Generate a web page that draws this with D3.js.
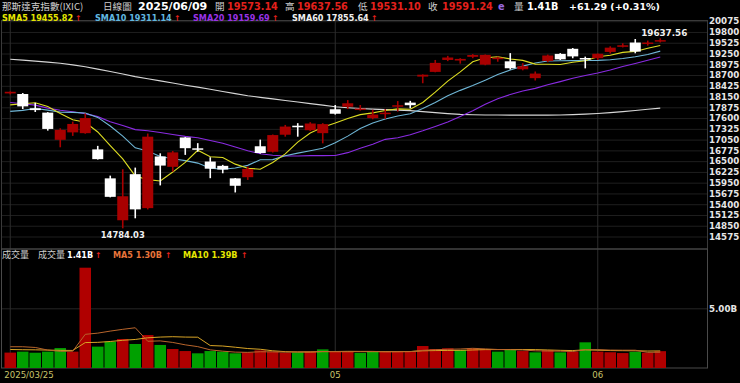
<!DOCTYPE html>
<html>
<head>
<meta charset="utf-8">
<script src="https://cdn.jsdelivr.net/npm/d3@7.9.0/dist/d3.min.js"></script>
<style>
  body { margin: 0; background: #000; }
  svg { display: block; }
  .num { font-family: "DejaVu Sans", Verdana, sans-serif; font-weight: bold; }
  .cjk { font-family: "Noto Sans CJK TC", sans-serif; }
</style>
</head>
<body>
<svg id="chart" width="740" height="383"></svg>
<script>
// Daily candles, 2025/03/25 - 2025/06/09
const dates = [
  "2025/03/25", "2025/03/26", "2025/03/27", "2025/03/28", "2025/03/31",
  "2025/04/01", "2025/04/02", "2025/04/03", "2025/04/04", "2025/04/07",
  "2025/04/08", "2025/04/09", "2025/04/10", "2025/04/11", "2025/04/14",
  "2025/04/15", "2025/04/16", "2025/04/17", "2025/04/21", "2025/04/22",
  "2025/04/23", "2025/04/24", "2025/04/25", "2025/04/28", "2025/04/29",
  "2025/04/30", "2025/05/01", "2025/05/02", "2025/05/05", "2025/05/06",
  "2025/05/07", "2025/05/08", "2025/05/09", "2025/05/12", "2025/05/13",
  "2025/05/14", "2025/05/15", "2025/05/16", "2025/05/19", "2025/05/20",
  "2025/05/21", "2025/05/22", "2025/05/23", "2025/05/27", "2025/05/28",
  "2025/05/29", "2025/05/30", "2025/06/02", "2025/06/03", "2025/06/04",
  "2025/06/05", "2025/06/06", "2025/06/09"
];
const opens = [
  18230, 18215, 17850, 17740, 17045, 17235, 17215, 16800, 16060, 14990,
  16167, 15300, 16620, 16355, 17105, 16828, 16490, 16380, 16060, 16090,
  16880, 16740, 17175, 17405, 17290, 17215, 17825, 17890, 17815, 17600,
  17700, 17905, 17995, 18660, 18780, 19085, 19070, 19165, 18965, 19135,
  19050, 18846, 18620, 19060, 19240, 19370, 19135, 19130, 19290, 19420,
  19530, 19500, 19573.14
];
const highs = [
  18282, 18240, 17990, 17752, 17340, 17510, 17720, 16890, 16130, 16293,
  16335, 17205, 16700, 16760, 17115, 16960, 16600, 16405, 16070, 16360,
  17050, 17180, 17425, 17470, 17495, 17470, 17935, 18060, 17935, 17815,
  17830, 18035, 18040, 18716, 19085, 19190, 19130, 19235, 19225, 19170,
  19260, 19003, 18790, 19222, 19260, 19390, 19170, 19250, 19434, 19512,
  19620, 19580, 19637.56
];
const lows = [
  18205, 17830, 17755, 17280, 16854, 17145, 17200, 16540, 15575, 14784.03,
  15040, 15267, 15880, 16232, 16660, 16740, 16065, 16190, 15700, 16020,
  16690, 16720, 17125, 17125, 17270, 16955, 17690, 17830, 17790, 17570,
  17580, 17765, 17850, 18490, 18770, 19055, 18990, 19130, 18950, 19040,
  18840, 18820, 18560, 19030, 19085, 19128, 18870, 19085, 19250, 19405,
  19255, 19450, 19531.10
];
const closes = [
  18272, 17899, 17804, 17323, 17299, 17450, 17601, 16551, 15588, 15603,
  15268, 17125, 16387, 16724, 16831, 16823, 16307, 16286, 15871, 16300,
  16708, 17166, 17383, 17366, 17461, 17446, 17711, 17978, 17844, 17690,
  17738, 17928, 17929, 18708, 19010, 19147, 19112, 19211, 19215, 19143,
  18873, 18926, 18737, 19199, 19101, 19176, 19114, 19243, 19399, 19460,
  19298, 19530, 19591.24
];
const prevClose = 18188.59;

// moving averages of the close
const sma5 = [
  17938, 17967, 17990, 17897, 17719, 17555, 17495, 17245, 16898, 16559,
  16122, 16027, 15994, 16221, 16467, 16778, 16614, 16594, 16424, 16317,
  16294, 16466, 16686, 16985, 17217, 17364, 17473, 17592, 17688, 17734,
  17792, 17836, 17826, 17999, 18263, 18544, 18781, 19038, 19139, 19166,
  19111, 19074, 18979, 18976, 18967, 19028, 19065, 19167, 19207, 19278,
  19303, 19386, 19455.82
];
const sma10 = [
  17771, 17796, 17846, 17803, 17752, 17746, 17731, 17617, 17398, 17139,
  16839, 16761, 16620, 16560, 16513, 16450, 16321, 16294, 16323, 16392,
  16536, 16540, 16640, 16704, 16767, 16829, 16970, 17139, 17336, 17475,
  17578, 17655, 17709, 17843, 17998, 18168, 18308, 18432, 18569, 18714,
  18828, 18927, 19008, 19057, 19066, 19069, 19070, 19073, 19091, 19123,
  19165, 19226, 19311.14
];
const sma20 = [
  18000, 17968, 17931, 17854, 17802, 17760, 17713, 17637, 17506, 17413,
  17305, 17278, 17233, 17181, 17132, 17098, 17026, 16956, 16860, 16766,
  16687, 16651, 16630, 16632, 16640, 16640, 16645, 16717, 16829, 16934,
  17057, 17097, 17175, 17274, 17383, 17499, 17639, 17785, 17953, 18095,
  18203, 18291, 18359, 18450, 18532, 18619, 18689, 18752, 18830, 18918,
  18996, 19077, 19159.69
];
const sma60 = [
  19102, 19080, 19055, 19030, 19000, 18960, 18910, 18850, 18790, 18725,
  18660, 18605, 18550, 18495, 18440, 18390, 18335, 18280, 18225, 18172,
  18130, 18090, 18050, 18010, 17970, 17930, 17891, 17865, 17845, 17828,
  17815, 17803, 17790, 17765, 17740, 17715, 17695, 17685, 17680, 17678,
  17676, 17675, 17675, 17676, 17680, 17688, 17700, 17718, 17740, 17765,
  17795, 17825, 17855.64
];

// volume in billions
const volumes = [
  1.29, 1.37, 1.28, 1.37, 1.67, 1.37, 8.40, 1.79, 2.20, 2.43,
  2.01, 2.76, 1.93, 1.59, 1.42, 1.23, 1.42, 1.37, 1.23, 1.31,
  1.48, 1.37, 1.28, 1.31, 1.37, 1.56, 1.37, 1.37, 1.26, 1.37,
  1.42, 1.42, 1.37, 1.84, 1.59, 1.65, 1.51, 1.65, 1.59, 1.37,
  1.51, 1.42, 1.31, 1.51, 1.31, 1.37, 2.15, 1.37, 1.32, 1.25,
  1.35, 1.28, 1.41
];
const volMa5 = [
  1.78, 1.78, 1.72, 1.50, 1.40, 1.41, 2.82, 2.92, 3.09, 3.24,
  3.37, 2.24, 2.27, 2.14, 1.94, 1.79, 1.52, 1.41, 1.33, 1.31,
  1.36, 1.35, 1.33, 1.35, 1.36, 1.38, 1.38, 1.40, 1.39, 1.39,
  1.36, 1.37, 1.37, 1.48, 1.53, 1.57, 1.59, 1.65, 1.60, 1.55,
  1.53, 1.51, 1.44, 1.42, 1.41, 1.38, 1.53, 1.54, 1.50, 1.49,
  1.49, 1.31, 1.32
];
const volMa10 = [
  1.55, 1.53, 1.52, 1.50, 1.48, 1.47, 2.13, 2.15, 2.22, 2.32,
  2.39, 2.53, 2.59, 2.62, 2.59, 2.58, 1.88, 1.84, 1.74, 1.63,
  1.57, 1.44, 1.37, 1.34, 1.34, 1.37, 1.37, 1.37, 1.37, 1.37,
  1.37, 1.37, 1.38, 1.44, 1.46, 1.47, 1.48, 1.51, 1.54, 1.54,
  1.55, 1.55, 1.54, 1.51, 1.48, 1.46, 1.52, 1.49, 1.46, 1.45,
  1.44, 1.42, 1.43
];

// axis ticks
const priceTicks = [
  20075, 19800, 19525, 19250, 18975, 18700, 18425, 18150, 17875, 17600, 17325,
  17050, 16775, 16500, 16225, 15950, 15675, 15400, 15125, 14850, 14575
];
const volTicks = [5];
const dateTicks = ["2025/03/25", "2025/05/01", "2025/06/02"];
const dateTickLabels = ["2025/03/25", "05", "06"];

const svg = d3.select("#chart");
const plotLeft = 1.5;
const plotRight = 707.5;
const volTop = 249;
const volBottom = 368;

const x = d3.scaleBand().domain(dates).range([4, 666.5]);
const mid = (d) => x(d) + x.bandwidth() / 2;
const y = d3.scaleLinear().domain([14575, 20075]).range([236.5, 21.2]);
const yVol = d3.scaleLinear().domain([0, 5]).range([volBottom, 308.3]);

const bars = dates.map((d, i) => ({
  date: d,
  open: opens[i],
  high: highs[i],
  low: lows[i],
  close: closes[i],
  volume: volumes[i],
  prev: i === 0 ? prevClose : closes[i - 1]
}));

// Grid lines
const gridPrice = svg.append("g")
  .attr("transform", `translate(${plotRight},0)`)
  .call(d3.axisLeft(y).tickValues(priceTicks).tickSize(plotRight - plotLeft).tickFormat(""));
gridPrice.select(".domain").remove();
gridPrice.selectAll("line").attr("stroke", "#1f1f1f");

const gridVol = svg.append("g")
  .attr("transform", `translate(${plotRight},0)`)
  .call(d3.axisLeft(yVol).tickValues(volTicks).tickSize(plotRight - plotLeft).tickFormat(""));
gridVol.select(".domain").remove();
gridVol.selectAll("line").attr("stroke", "#262626");

const gridX = svg.append("g")
  .attr("transform", `translate(0,${volBottom})`)
  .call(d3.axisBottom(x).tickValues(dateTicks).tickSize(-(volBottom - 20)).tickFormat(""));
gridX.select(".domain").remove();
gridX.selectAll("line").attr("stroke", "#2c2c2c");

// Panel borders
svg.append("rect")
  .attr("x", plotLeft).attr("y", 20.5)
  .attr("width", plotRight - plotLeft).attr("height", volTop - 20.5)
  .attr("fill", "none").attr("stroke", "#3a3a3a");
svg.append("rect")
  .attr("x", plotLeft).attr("y", volTop)
  .attr("width", plotRight - plotLeft).attr("height", volBottom - volTop)
  .attr("fill", "none").attr("stroke", "#4a4a4a");

// Moving average lines
const line = d3.line()
  .x((d, i) => mid(dates[i]))
  .y((d) => y(d));

const maLines = [
  [sma60, "#d6d6d6"],
  [sma20, "#8a2be2"],
  [sma10, "#6fb6d6"],
  [sma5, "#dede22"]
];
maLines.forEach(([values, color]) => {
  svg.append("path")
    .datum(values)
    .attr("d", line)
    .attr("fill", "none")
    .attr("stroke", color)
    .attr("stroke-width", 1.1);
});

// Candles
const candle = svg.append("g")
  .selectAll("g")
  .data(bars)
  .join("g");

const candleColor = (d) => (d.close >= d.open ? "#a80000" : "#ffffff");

candle.append("line")
  .attr("x1", (d) => mid(d.date))
  .attr("x2", (d) => mid(d.date))
  .attr("y1", (d) => y(d.high))
  .attr("y2", (d) => y(d.low))
  .attr("stroke", candleColor)
  .attr("stroke-width", 1.6);

candle.append("rect")
  .attr("x", (d) => mid(d.date) - 5.5)
  .attr("width", 11)
  .attr("y", (d) => y(Math.max(d.open, d.close)))
  .attr("height", (d) => Math.max(1.5, Math.abs(y(d.open) - y(d.close))))
  .attr("fill", candleColor);

// High / low annotations
const hiBar = bars[bars.length - 1];
const loBar = bars[9];
svg.append("text")
  .attr("class", "num")
  .attr("x", mid(hiBar.date) + 4)
  .attr("y", y(hiBar.high) - 2.5)
  .attr("text-anchor", "middle")
  .attr("font-size", "8.8px")
  .attr("fill", "#f0f0f0")
  .text(hiBar.high.toFixed(2));
svg.append("text")
  .attr("class", "num")
  .attr("x", mid(loBar.date))
  .attr("y", y(loBar.low) + 9.5)
  .attr("text-anchor", "middle")
  .attr("font-size", "8.4px")
  .attr("fill", "#f0f0f0")
  .text(loBar.low.toFixed(2));

// Volume bars
svg.append("g")
  .selectAll("rect")
  .data(bars)
  .join("rect")
  .attr("x", (d) => x(d.date) + 0.5)
  .attr("width", x.bandwidth() - 1)
  .attr("y", (d) => yVol(d.volume))
  .attr("height", (d) => volBottom - yVol(d.volume))
  .attr("fill", (d) => (d.close >= d.prev ? "#b00000" : "#00a000"));

const volLine = d3.line()
  .x((d, i) => mid(dates[i]))
  .y((d) => yVol(d));

svg.append("path")
  .datum(volMa10)
  .attr("d", volLine)
  .attr("fill", "none")
  .attr("stroke", "#d9a526")
  .attr("stroke-width", 1);
svg.append("path")
  .datum(volMa5)
  .attr("d", volLine)
  .attr("fill", "none")
  .attr("stroke", "#b8652c")
  .attr("stroke-width", 1);

// Right axes
const yAxis = svg.append("g")
  .attr("transform", `translate(${plotRight},0)`)
  .call(d3.axisRight(y).tickValues(priceTicks).tickSize(0).tickPadding(1.5).tickFormat(d3.format("d")));
yAxis.select(".domain").remove();
yAxis.selectAll("text")
  .attr("class", "num")
  .attr("font-size", "8.7px")
  .attr("fill", "#e6e6e6");

const volAxis = svg.append("g")
  .attr("transform", `translate(${plotRight},0)`)
  .call(d3.axisRight(yVol).tickValues(volTicks).tickSize(0).tickPadding(1.5).tickFormat((d) => d3.format(".2f")(d) + "B"));
volAxis.select(".domain").remove();
volAxis.selectAll("text")
  .attr("class", "num")
  .attr("font-size", "8.7px")
  .attr("fill", "#e6e6e6");

// Bottom date axis
const xAxis = svg.append("g")
  .attr("transform", `translate(0,${volBottom})`)
  .call(d3.axisBottom(x).tickValues(dateTicks).tickSize(0).tickPadding(4)
    .tickFormat((d) => dateTickLabels[dateTicks.indexOf(d)]));
xAxis.select(".domain").remove();
xAxis.selectAll("text")
  .attr("font-family", "'DejaVu Sans', sans-serif")
  .attr("font-size", "8.6px")
  .attr("fill", "#c9c46a");
xAxis.selectAll(".tick")
  .filter((d) => d === dateTicks[0])
  .select("text")
  .attr("text-anchor", "start")
  .attr("x", -6);

// Header texts
function label(px, py, text, fill, cls, size) {
  return svg.append("text")
    .attr("class", cls)
    .attr("x", px)
    .attr("y", py)
    .attr("font-size", size)
    .attr("fill", fill)
    .text(text);
}

const grey = "#cfcfcf";
const red = "#e3201c";
const row1 = 10;
const row2 = 20.8;
label(2, row1, "那斯達克指數(IXIC)", grey, "cjk", "9.6px");
label(103, row1, "日線圖", grey, "cjk", "9.6px");
label(138, row1, "2025/06/09", "#ffffff", "num", "11px");
label(215, row1, "開", grey, "cjk", "9.6px");
label(227, row1, "19573.14", red, "num", "9.7px");
label(285, row1, "高", grey, "cjk", "9.6px");
label(297, row1, "19637.56", red, "num", "9.7px");
label(358, row1, "低", grey, "cjk", "9.6px");
label(370, row1, "19531.10", red, "num", "9.7px");
label(428, row1, "收", grey, "cjk", "9.6px");
label(442, row1, "19591.24", red, "num", "9.7px");
label(498, row1, "e", "#9a6ae0", "num", "9.7px");
label(514, row1, "量", grey, "cjk", "9.6px");
label(527, row1, "1.41B", "#ffffff", "num", "9.7px");
label(569, row1, "+61.29 (+0.31%)", "#ffffff", "num", "9.5px");

label(2, row2, "SMA5 19455.82", "#e6e600", "num", "8.1px");
label(75, row2, "↑", red, "num", "7.8px");
label(95, row2, "SMA10 19311.14", "#62b8e0", "num", "8.1px");
label(174, row2, "↑", red, "num", "7.8px");
label(193, row2, "SMA20 19159.69", "#9a33e6", "num", "8.1px");
label(272, row2, "↑", red, "num", "7.8px");
label(292, row2, "SMA60 17855.64", "#f0f0f0", "num", "8.1px");
label(371, row2, "↑", red, "num", "7.8px");

label(2, 258, "成交量", grey, "cjk", "9px");
label(38, 258, "成交量", grey, "cjk", "9px");
label(67, 258, "1.41B", "#ffffff", "num", "8.1px");
label(95, 258, "↑", red, "num", "7.8px");
label(113, 258, "MA5 1.30B", "#e8743a", "num", "8.1px");
label(165, 258, "↑", red, "num", "7.8px");
label(183, 258, "MA10 1.39B", "#e6e600", "num", "8.1px");
label(241, 258, "↑", red, "num", "7.8px");
</script>
</body>
</html>
